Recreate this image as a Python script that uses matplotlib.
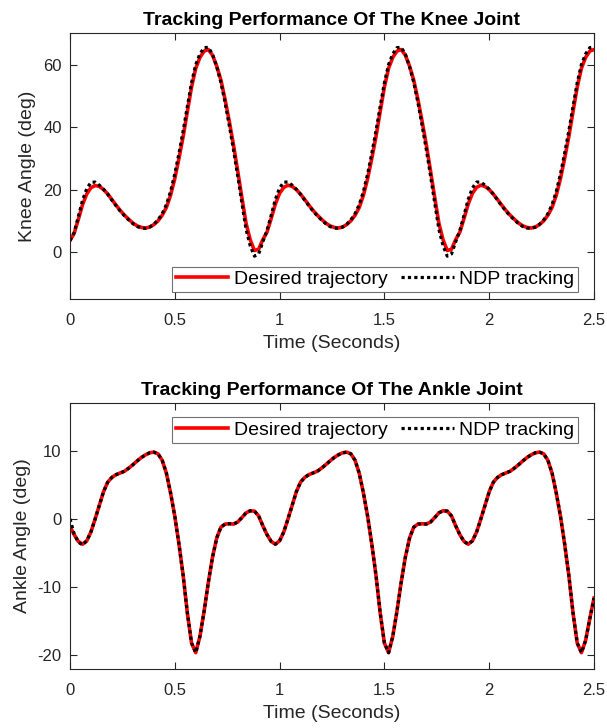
import numpy as np
import matplotlib
matplotlib.use('Agg')
import matplotlib.pyplot as plt

plt.rcParams['font.family'] = ['Liberation Sans', 'DejaVu Sans']
plt.rcParams['axes.unicode_minus'] = False

t = np.linspace(0, 2.5, 126)

knee_desired = [
    3.7, 6.0, 10.5, 15.2, 18.6, 20.6, 21.3, 21.0, 20.0, 18.6,
    16.8, 15.0, 13.3, 11.8, 10.5, 9.3, 8.4, 7.9, 7.7, 8.0,
    8.8, 10.0, 11.8, 14.3, 18.2, 23.5, 30.0, 37.0, 45.0, 52.8,
    58.8, 62.3, 64.3, 64.8, 63.0, 59.5, 55.0, 48.8, 41.8, 34.3,
    26.0, 17.5, 9.2, 3.9, 0.5, 0.9,
    4.0, 6.4, 10.8, 15.4, 18.8, 20.7, 21.4, 21.0, 20.0, 18.5,
    16.8, 15.0, 13.3, 11.8, 10.5, 9.3, 8.4, 7.9, 7.7, 8.0,
    8.8, 10.0, 11.8, 14.3, 18.2, 23.5, 30.0, 37.0, 45.0, 52.8,
    58.8, 62.3, 64.3, 64.8, 63.0, 59.5, 55.0, 48.8, 41.8, 34.3,
    26.0, 17.5, 9.2, 3.9, 0.5, 0.9,
    4.0, 6.4, 10.8, 15.4, 18.8, 20.7, 21.4, 21.0, 20.0, 18.5,
    16.8, 15.0, 13.3, 11.8, 10.5, 9.3, 8.4, 7.9, 7.7, 8.0,
    8.8, 10.0, 11.8, 14.3, 18.2, 23.5, 30.0, 37.0, 45.0, 52.8,
    58.8, 62.3, 64.3, 64.8]

knee_ndp = [
    3.7, 6.3, 11.4, 16.6, 20.3, 22.3, 22.4, 21.4, 20.1, 18.5,
    16.6, 14.8, 13.1, 11.6, 10.3, 9.1, 8.2, 7.7, 7.6, 8.0,
    8.9, 10.3, 12.3, 15.2, 19.4, 25.0, 31.6, 38.8, 46.6, 54.2,
    60.0, 63.4, 65.4, 65.5, 63.3, 59.3, 54.3, 47.8, 40.5, 32.8,
    24.5, 15.8, 7.3, 2.0, -1.3, -0.6,
    3.3, 6.9, 11.8, 16.9, 20.5, 22.4, 22.4, 21.4, 20.1, 18.5,
    16.6, 14.8, 13.1, 11.6, 10.3, 9.1, 8.2, 7.7, 7.6, 8.0,
    8.9, 10.3, 12.3, 15.2, 19.4, 25.0, 31.6, 38.8, 46.6, 54.2,
    60.0, 63.4, 65.4, 65.5, 63.3, 59.3, 54.3, 47.8, 40.5, 32.8,
    24.5, 15.8, 7.3, 2.0, -1.3, -0.6,
    3.3, 6.9, 11.8, 16.9, 20.5, 22.4, 22.4, 21.4, 20.1, 18.5,
    16.6, 14.8, 13.1, 11.6, 10.3, 9.1, 8.2, 7.7, 7.6, 8.0,
    8.9, 10.3, 12.3, 15.2, 19.4, 25.0, 31.6, 38.8, 46.6, 54.2,
    60.0, 63.4, 65.4, 65.6]

ankle_desired = [
    -1.1, -2.3, -3.3, -3.7, -3.2, -1.9, 0.0, 2.0, 4.0, 5.4,
    6.1, 6.5, 6.75, 7.0, 7.45, 7.95, 8.5, 9.0, 9.4, 9.7,
    9.8, 9.55, 8.6, 6.7, 3.8, 0.4, -3.7, -8.3, -13.8, -18.2,
    -19.6, -17.2, -13.5, -9.3, -5.6, -2.8, -1.2, -0.75, -0.7, -0.75,
    -0.45, 0.2, 0.9, 1.2, 1.15, 0.45,
    -1.0, -2.3, -3.3, -3.7, -3.2, -1.9, 0.0, 2.0, 4.0, 5.4,
    6.1, 6.5, 6.75, 7.0, 7.45, 7.95, 8.5, 9.0, 9.4, 9.7,
    9.8, 9.55, 8.6, 6.7, 3.8, 0.4, -3.7, -8.3, -13.8, -18.2,
    -19.6, -17.2, -13.5, -9.3, -5.6, -2.8, -1.2, -0.75, -0.7, -0.75,
    -0.45, 0.2, 0.9, 1.2, 1.15, 0.45,
    -1.0, -2.3, -3.3, -3.7, -3.2, -1.9, 0.0, 2.0, 4.0, 5.4,
    6.1, 6.5, 6.75, 7.0, 7.45, 7.95, 8.5, 9.0, 9.4, 9.7,
    9.8, 9.55, 8.6, 6.7, 3.8, 0.4, -3.7, -8.3, -13.8, -18.2,
    -19.6, -17.8, -14.6, -11.6]

ankle_ndp = [
    0.0, -2.2, -3.4, -3.8, -3.2, -1.9, 0.0, 2.0, 4.0, 5.4,
    6.1, 6.5, 6.75, 7.0, 7.45, 7.95, 8.5, 9.0, 9.4, 9.7,
    9.8, 9.55, 8.6, 6.7, 3.8, 0.4, -3.7, -8.3, -13.8, -18.2,
    -19.6, -17.2, -13.5, -9.3, -5.6, -2.8, -1.2, -0.75, -0.7, -0.75,
    -0.45, 0.2, 0.9, 1.2, 1.15, 0.45,
    -1.0, -2.3, -3.3, -3.7, -3.2, -1.9, 0.0, 2.0, 4.0, 5.4,
    6.1, 6.5, 6.75, 7.0, 7.45, 7.95, 8.5, 9.0, 9.4, 9.7,
    9.8, 9.55, 8.6, 6.7, 3.8, 0.4, -3.7, -8.3, -13.8, -18.2,
    -19.6, -17.2, -13.5, -9.3, -5.6, -2.8, -1.2, -0.75, -0.7, -0.75,
    -0.45, 0.2, 0.9, 1.2, 1.15, 0.45,
    -1.0, -2.3, -3.3, -3.7, -3.2, -1.9, 0.0, 2.0, 4.0, 5.4,
    6.1, 6.5, 6.75, 7.0, 7.45, 7.95, 8.5, 9.0, 9.4, 9.7,
    9.8, 9.55, 8.6, 6.7, 3.8, 0.4, -3.7, -8.3, -13.8, -18.2,
    -19.6, -17.8, -14.6, -11.6]

x_ticks = [0, 0.5, 1, 1.5, 2, 2.5]
x_tick_labels = ['0', '0.5', '1', '1.5', '2', '2.5']
knee_yticks = [0, 20, 40, 60]
ankle_yticks = [-20, -10, 0, 10]

dark = '#262626'

fig = plt.figure(figsize=(6.07, 7.28), dpi=100)
ax1 = fig.add_axes([0.1153, 0.5893, 0.8633, 0.3650])
ax2 = fig.add_axes([0.1153, 0.0810, 0.8633, 0.3654])

panels = [
    (ax1, knee_desired, knee_ndp, 'Tracking Performance Of The Knee Joint',
     'Knee Angle (deg)', (-15, 70), knee_yticks, 'lower right', (0.9695, 0.026)),
    (ax2, ankle_desired, ankle_ndp, 'Tracking Performance Of The Ankle Joint',
     'Ankle Angle (deg)', (-22, 17), ankle_yticks, 'upper right', (0.9695, 0.947)),
]

for ax, des, ndp, title, ylab, ylim, yticks, loc, anchor in panels:
    ax.plot(t, des, color='red', lw=2.6, label='Desired trajectory')
    ax.plot(t, ndp, color='black', lw=2.3, dashes=(1, 1),
            dash_capstyle='butt', label='NDP tracking')
    ax.set_xlim(0, 2.5)
    ax.set_ylim(*ylim)
    ax.set_xticks(x_ticks)
    ax.set_xticklabels(x_tick_labels)
    ax.set_yticks(yticks)
    ax.tick_params(axis='both', direction='in', top=True, right=True,
                   length=5, width=0.8, labelsize=12, colors=dark, pad=6)
    ax.tick_params(axis='x', pad=10)
    for sp in ax.spines.values():
        sp.set_color(dark)
        sp.set_linewidth(0.8)
    ax.set_title(title, fontsize=14, fontweight='bold', pad=6, color='black')
    ax.set_xlabel('Time (Seconds)', fontsize=14, color=dark, labelpad=5)
    ax.set_ylabel(ylab, fontsize=14, color=dark, labelpad=5)
    leg = ax.legend(loc=loc, bbox_to_anchor=anchor, ncol=2, fontsize=14,
                    frameon=True, fancybox=False, borderaxespad=0,
                    handlelength=2.7, handletextpad=0.28, columnspacing=0.7,
                    borderpad=0.2)
    leg.get_frame().set_edgecolor('0.3')
    leg.get_frame().set_linewidth(0.8)

plt.savefig('out.png', dpi=100)
